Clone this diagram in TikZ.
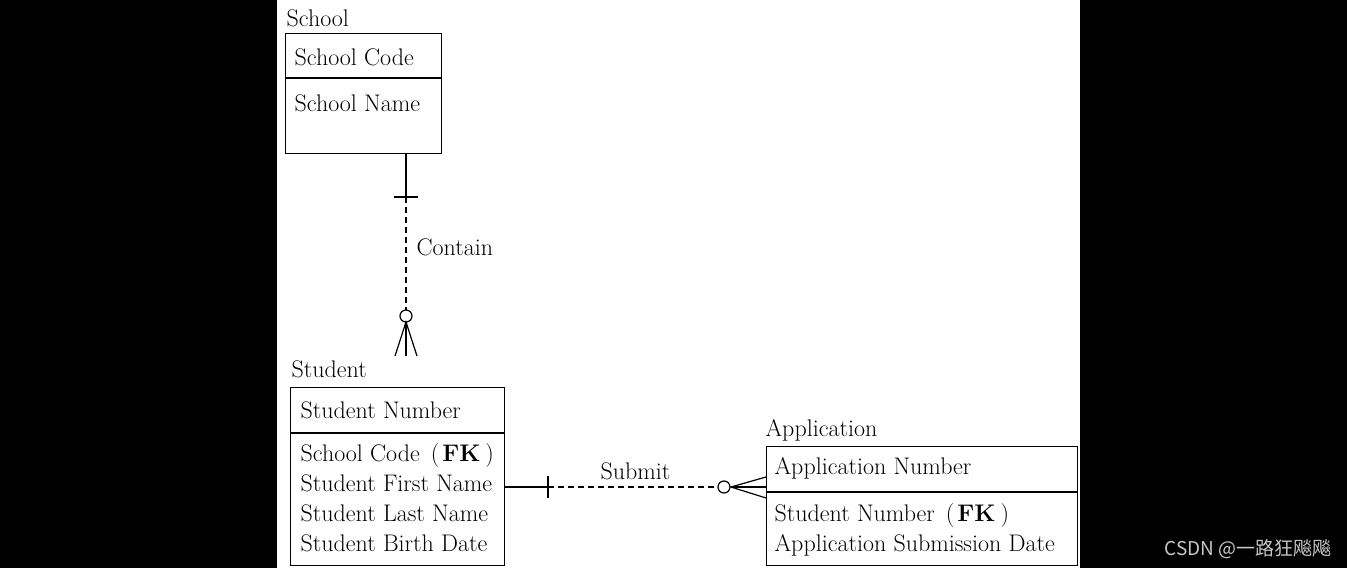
\documentclass[tikz,border=0pt]{standalone}
\usepackage{fontspec}
\newfontfamily\cjk{Noto Sans CJK SC}
\definecolor{markgray}{RGB}{200,200,200}
\newcommand{\fkmark}{\hspace{11pt}(\hspace{3pt}\textbf{FK}\hspace{5pt})}

\begin{document}
\begin{tikzpicture}[x=1pt, y=-1pt, line width=1.2pt,
    every node/.style={font=\fontsize{24}{28}\selectfont},
    entity/.style={draw, anchor=north west, inner sep=0pt},
    etitle/.style={anchor=base west, inner sep=0pt},
    attr/.style={anchor=base west, inner sep=0pt},
    rel/.style={dash pattern=on 6pt off 4pt}]
    \useasboundingbox (0,0) rectangle (1347,568);
    \fill[black] (0,0) rectangle (277,568);
    \fill[black] (1080,0) rectangle (1347,568);

    \node[entity, minimum width=156pt, minimum height=120pt] (school) at (285,33) {};
    \node[entity, minimum width=214pt, minimum height=178pt] (student) at (290,387) {};
    \node[entity, minimum width=311pt, minimum height=119pt] (application) at (766,446) {};

    \node[etitle] (school-t) at (286,26) {School};
    \node[etitle] (student-t) at (291,377) {Student};
    \node[etitle] (application-t) at (765,436) {Application};

    \draw (school.west |- 0,78) -- (school.east |- 0,78);
    \draw (student.west |- 0,433) -- (student.east |- 0,433);
    \draw (application.west |- 0,492) -- (application.east |- 0,492);

    \node[attr] (sc-code) at (294,65) {School Code};
    \node[attr] (sc-name) at (294,111) {School Name};

    \node[attr] (st-num) at (300,418) {Student Number};
    \node[attr] (st-code) at (300,461) {School Code\fkmark};
    \node[attr] (st-first) at (300,491) {Student First Name};
    \node[attr] (st-last) at (300,521) {Student Last Name};
    \node[attr] (st-birth) at (300,551) {Student Birth Date};

    \node[attr] (ap-num) at (774,474) {Application Number};
    \node[attr] (ap-stnum) at (774,521) {Student Number\fkmark};
    \node[attr] (ap-date) at (774,551) {Application Submission Date};

    % school -- student
    \coordinate (contain-end) at (406,356);
    \draw (406,0 |- school.south) -- (406,197);
    \draw (394,197) -- (418,197);
    \draw[rel] (406,197) -- (406,310);
    \draw (406,316) circle (6pt);
    \draw (395,356) -- (406,322) -- (417,356);
    \draw (406,322) -- (contain-end);
    \node[attr] (contain) at (416,255) {Contain};

    % student -- application
    \draw (student.east |- 0,487) -- (548,487);
    \draw (548,476) -- (548,498);
    \draw[rel] (548,487) -- (718,487);
    \draw (724,487) circle (6pt);
    \draw (application.west |- 0,477) -- (731,487) -- (application.west |- 0,498);
    \draw (731,487) -- (application.west |- 0,487);
    \node[attr] (submit) at (600,479) {Submit};

    \node[anchor=base east, inner sep=0pt, text=markgray, font=\cjk\fontsize{19}{22}\selectfont] (mark) at (1332,555) {CSDN @一路狂飚飚};
\end{tikzpicture}
\end{document}
